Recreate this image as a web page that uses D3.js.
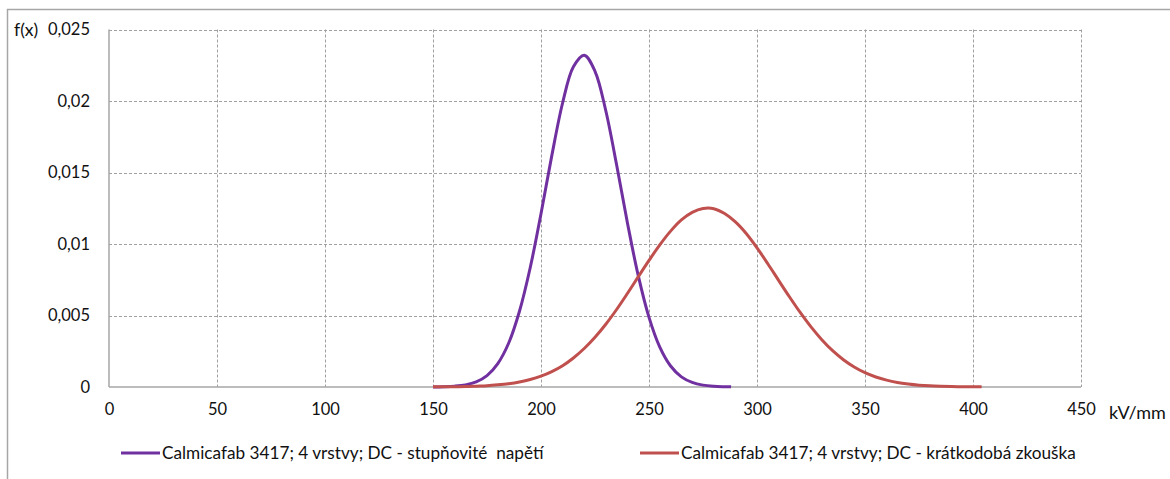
<!DOCTYPE html>
<html>
<head>
<meta charset="utf-8">
<script src="https://cdn.jsdelivr.net/npm/d3@7"></script>
<style>
  body { margin: 0; background: #fff; }
  svg text { font-family: Lato, "Open Sans", sans-serif; fill: #111; }
</style>
</head>
<body>
<div id="chart"></div>
<script>
// values
let seriesNames = ["Calmicafab 3417; 4 vrstvy; DC - stupňovité  napětí", "Calmicafab 3417; 4 vrstvy; DC - krátkodobá zkouška"];
let xTicks = [0, 50, 100, 150, 200, 250, 300, 350, 400, 450];
let yTicks = [0, 0.005, 0.01, 0.015, 0.02, 0.025];

let stepX = [150, 155, 160, 165, 170, 175, 180, 185, 190, 195, 200, 205, 210, 215, 220, 225, 230, 235, 240, 245, 250, 255, 260, 265, 270, 275, 280, 285, 288];
let stepY = [0, 0.00002, 0.00006, 0.00015, 0.00036, 0.0008, 0.00164, 0.00306, 0.00528, 0.00834, 0.01212, 0.01618, 0.01986, 0.02239, 0.0232, 0.02208, 0.01932, 0.01554, 0.01149, 0.0078, 0.00487, 0.00279, 0.00147, 0.00071, 0.00032, 0.00013, 0.00005, 0.00002, 0.00001];

let shortX = [150, 155, 160, 165, 170, 175, 180, 185, 190, 195, 200, 205, 210, 215, 220, 225, 230, 235, 240, 245, 250, 255, 260, 265, 270, 275, 280, 285, 290, 295, 300, 305, 310, 315, 320, 325, 330, 335, 340, 345, 350, 355, 360, 365, 370, 375, 380, 385, 390, 395, 400, 404];
let shortY = [0.00001, 0.00001, 0.00002, 0.00003, 0.00006, 0.00009, 0.00015, 0.00023, 0.00035, 0.00052, 0.00076, 0.00108, 0.00149, 0.00203, 0.00269, 0.00348, 0.00439, 0.00542, 0.00654, 0.0077, 0.00885, 0.00994, 0.0109, 0.01168, 0.01221, 0.01248, 0.01247, 0.01213, 0.01154, 0.01073, 0.00973, 0.00862, 0.00746, 0.00631, 0.00521, 0.0042, 0.00331, 0.00254, 0.00191, 0.0014, 0.001, 0.0007, 0.00048, 0.00032, 0.00021, 0.00013, 0.00008, 0.00005, 0.00003, 0.00002, 0.00001, 0.00001];

let colors = ["#7030a0", "#c0504d"];

let width = 1170, height = 479;
let plotLeft = 109, plotRight = 1081, plotTop = 29.5, plotBottom = 387;

let svg = d3.select("#chart").append("svg")
    .attr("width", width).attr("height", height);

// outer frame
svg.append("path")
    .attr("d", `M7.5,${height + 5}V9.5H${width + 5}`)
    .attr("fill", "none").attr("stroke", "#a6a6a6").attr("stroke-width", 1.5);

let x = d3.scaleLinear().domain([0, 450]).range([plotLeft, plotRight]);
let y = d3.scaleLinear().domain([0, 0.025]).range([plotBottom, plotTop]);

let locale = d3.formatLocale({ decimal: ",", thousands: " ", grouping: [3], currency: ["", ""] });
let fmt = locale.format(".3~f");

// grid
let grid = svg.append("g");
grid.selectAll(".hgrid").data(yTicks.filter(d => d > 0)).join("line")
    .attr("class", "hgrid")
    .attr("x1", plotLeft).attr("x2", plotRight)
    .attr("y1", d => Math.round(y(d)) + 0.5).attr("y2", d => Math.round(y(d)) + 0.5)
    .attr("stroke", "#a0a0a0").attr("stroke-dasharray", "3,2");
grid.selectAll(".vgrid").data(xTicks.filter(d => d > 0)).join("line")
    .attr("class", "vgrid")
    .attr("x1", d => Math.round(x(d)) + 0.5).attr("x2", d => Math.round(x(d)) + 0.5)
    .attr("y1", plotTop).attr("y2", plotBottom)
    .attr("stroke", "#a0a0a0").attr("stroke-dasharray", "3,2");

// axes lines
svg.append("line").attr("x1", plotLeft).attr("x2", plotLeft).attr("y1", plotTop).attr("y2", plotBottom)
    .attr("stroke", "#a6a6a6").attr("stroke-width", 1.5);
svg.append("line").attr("x1", plotLeft).attr("x2", plotRight).attr("y1", plotBottom).attr("y2", plotBottom)
    .attr("stroke", "#a6a6a6").attr("stroke-width", 1.5);

let yAxis = svg.append("g").attr("transform", `translate(${plotLeft},0)`)
    .call(d3.axisLeft(y).tickValues(yTicks).tickSize(0).tickPadding(19).tickFormat(fmt));
yAxis.select(".domain").remove();
yAxis.selectAll("text").style("font-size", "16.5px").style("font-family", "Lato");

let xAxis = svg.append("g").attr("transform", `translate(0,${plotBottom})`)
    .call(d3.axisBottom(x).tickValues(xTicks).tickSize(0).tickPadding(16).tickFormat(fmt));
xAxis.select(".domain").remove();
xAxis.selectAll("text").style("font-size", "16.5px").style("font-family", "Lato");

svg.append("text").attr("x", 14).attr("y", 36).style("font-size", "17.5px").text("f(x)");
svg.append("text").attr("x", 1109).attr("y", 419).style("font-size", "18px").text("kV/mm");

// curves
let line = d3.line().x(d => x(d[0])).y(d => y(d[1])).curve(d3.curveCatmullRom.alpha(0.5));
let series = [d3.zip(stepX, stepY), d3.zip(shortX, shortY)];

svg.selectAll(".curve").data(series).join("path")
    .attr("class", "curve")
    .attr("d", line)
    .attr("fill", "none")
    .attr("stroke", (d, i) => colors[i])
    .attr("stroke-width", 3)
    .attr("stroke-linejoin", "round");

// legend
let legendX = [121, 640];
let legend = svg.selectAll(".legend").data(seriesNames).join("g")
    .attr("class", "legend")
    .attr("transform", (d, i) => `translate(${legendX[i]},453)`);
legend.append("line").attr("x1", 0).attr("x2", 39).attr("y1", 0).attr("y2", 0)
    .attr("stroke", (d, i) => colors[i]).attr("stroke-width", 3);
legend.append("text").attr("x", 41).attr("y", 6)
    .style("font-size", "17.2px").style("white-space", "pre")
    .text(d => d);
</script>
</body>
</html>
